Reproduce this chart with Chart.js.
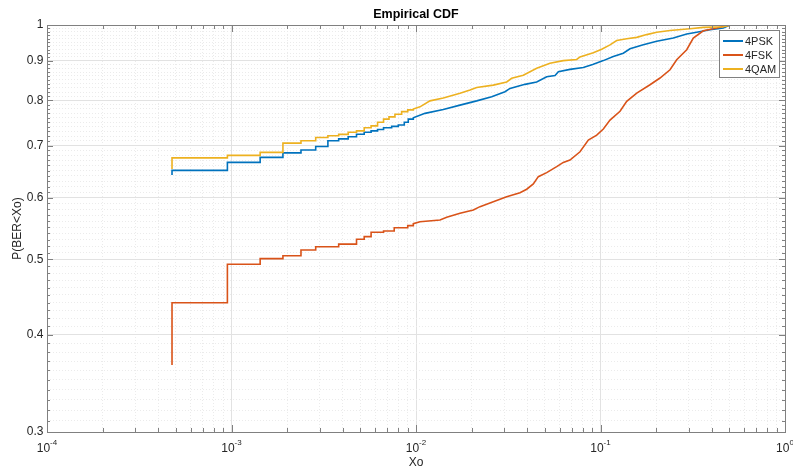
<!DOCTYPE html>
<html>
<head>
<meta charset="utf-8">
<script src="https://cdn.jsdelivr.net/npm/chart.js@4.4.0/dist/chart.umd.min.js"></script>
<style>
  html, body { margin: 0; padding: 0; background: #fff; }
  #wrap { width: 793px; height: 472px; }
</style>
</head>
<body>
<div id="wrap"><canvas id="cdfChart" width="793" height="472"></canvas></div>
<script>
// BER (x) and empirical CDF (y), one pair of arrays per modulation
const pskX = [0.000476, 0.000476, 0.00095, 0.00143, 0.0019, 0.00238, 0.00286, 0.00333, 0.00381, 0.00429, 0.00476, 0.00524, 0.00571, 0.00619, 0.00667, 0.00738, 0.00802, 0.00864, 0.00908, 0.00967, 0.01119, 0.01406, 0.01732, 0.02133, 0.02572, 0.03036, 0.03232, 0.03898, 0.0451, 0.0511, 0.0567, 0.0591, 0.0683, 0.0807, 0.0907, 0.1036, 0.1173, 0.1329, 0.1445, 0.1706, 0.2017, 0.2481, 0.2933, 0.3322, 0.3923, 0.4631, 0.5033];
const pskY = [0.6415, 0.6505, 0.666, 0.676, 0.685, 0.691, 0.698, 0.710, 0.714, 0.7185, 0.724, 0.728, 0.731, 0.734, 0.738, 0.741, 0.744, 0.750, 0.757, 0.760, 0.770, 0.779, 0.789, 0.799, 0.809, 0.821, 0.829, 0.839, 0.845, 0.858, 0.861, 0.871, 0.877, 0.882, 0.890, 0.900, 0.911, 0.920, 0.932, 0.943, 0.953, 0.962, 0.974, 0.979, 0.986, 0.991, 1.0];

const fskX = [0.000476, 0.000476, 0.00095, 0.00143, 0.0019, 0.00238, 0.00286, 0.00381, 0.00476, 0.00524, 0.00571, 0.00667, 0.00762, 0.00902, 0.00967, 0.01051, 0.01349, 0.01467, 0.01732, 0.02045, 0.02223, 0.02624, 0.03101, 0.03662, 0.03981, 0.04324, 0.04602, 0.0511, 0.05788, 0.06286, 0.0683, 0.07743, 0.0859, 0.09537, 0.1036, 0.1126, 0.1276, 0.1387, 0.1572, 0.1855, 0.2101, 0.2381, 0.2588, 0.2933, 0.3184, 0.3607, 0.4264, 0.5033];
const fskY = [0.3657, 0.4398, 0.4927, 0.501, 0.5054, 0.514, 0.519, 0.523, 0.5306, 0.5347, 0.5417, 0.5437, 0.549, 0.5524, 0.5557, 0.5589, 0.5617, 0.5662, 0.573, 0.5786, 0.5843, 0.593, 0.6018, 0.609, 0.6152, 0.6249, 0.6385, 0.6461, 0.6577, 0.666, 0.6707, 0.6873, 0.7115, 0.7221, 0.7351, 0.7549, 0.7747, 0.7978, 0.8177, 0.838, 0.8548, 0.876, 0.9023, 0.9294, 0.962, 0.983, 0.991, 1.0];

const qamX = [0.000476, 0.000476, 0.00095, 0.00143, 0.0019, 0.00238, 0.00286, 0.00333, 0.00381, 0.00429, 0.00476, 0.00524, 0.00571, 0.00619, 0.00667, 0.00714, 0.00769, 0.00836, 0.00902, 0.00967, 0.01051, 0.01191, 0.01406, 0.01732, 0.01963, 0.02133, 0.02624, 0.03101, 0.03301, 0.03816, 0.0451, 0.05324, 0.06286, 0.0743, 0.07743, 0.09141, 0.1015, 0.1126, 0.1224, 0.1387, 0.1572, 0.178, 0.2017, 0.2381, 0.3056, 0.3607, 0.4631, 0.5141];
const qamY = [0.653, 0.675, 0.680, 0.686, 0.705, 0.710, 0.717, 0.7206, 0.7236, 0.728, 0.731, 0.738, 0.742, 0.750, 0.757, 0.762, 0.768, 0.774, 0.778, 0.780, 0.785, 0.799, 0.806, 0.817, 0.825, 0.831, 0.837, 0.845, 0.854, 0.862, 0.880, 0.893, 0.900, 0.903, 0.910, 0.921, 0.931, 0.943, 0.955, 0.960, 0.964, 0.972, 0.979, 0.984, 0.989, 0.993, 0.995, 1.0];

const seriesLabels = ["4PSK", "4FSK", "4QAM"];
const seriesColors = ["#0072BD", "#D95319", "#EDB120"];

// below this BER the ecdf steps are wide enough to be drawn as stairs,
// above it the readings are dense and are joined directly
const stairLimit = 0.01;

// axis ticks
const xMajorTicks = [0.0001, 0.001, 0.01, 0.1, 1];
const xTickExponents = ["-4", "-3", "-2", "-1", "0"];
const yMajorTicks = [0.3, 0.4, 0.5, 0.6, 0.7, 0.8, 0.9, 1];
const yTickLabels = ["0.3", "0.4", "0.5", "0.6", "0.7", "0.8", "0.9", "1"];

const FONT = "'Liberation Sans', Arial, Helvetica, sans-serif";
const TEXT_COLOR = "#262626";
const AXIS_COLOR = "#808080";
const GRID_MAJOR = "#e2e2e2";
const GRID_MINOR = "#ebebeb";

// minor ticks: 2..9 inside each decade for x, every 0.01 for y
let xTicks = [];
xMajorTicks.forEach((v, i) => {
  xTicks.push({ value: v, major: true });
  if (i < xMajorTicks.length - 1) {
    for (let m = 2; m <= 9; m++) xTicks.push({ value: v * m, major: false });
  }
});
let yTicks = [];
for (let k = 30; k <= 100; k++) {
  yTicks.push({ value: k / 100, major: k % 10 === 0 });
}

// stairs for the sparse low-BER part, straight joins after that
function toPoints(xs, ys) {
  const pts = [];
  xs.forEach((x, i) => {
    if (i > 0 && x <= stairLimit) pts.push({ x: x, y: ys[i - 1] });
    pts.push({ x: x, y: ys[i] });
  });
  return pts;
}

// frame, inward tick marks, superscript x labels and boxed legend like MATLAB
const matlabFrame = {
  id: "matlabFrame",
  afterDraw(chart) {
    const { ctx, chartArea: a, scales } = chart;
    const x = scales.x, y = scales.y;
    ctx.save();
    ctx.strokeStyle = AXIS_COLOR;
    ctx.lineWidth = 1;
    ctx.beginPath();
    x.ticks.forEach((t) => {
      const px = Math.round(x.getPixelForValue(t.value)) + 0.5;
      const len = t.major ? 7 : 4;
      ctx.moveTo(px, a.bottom);
      ctx.lineTo(px, a.bottom - len);
      ctx.moveTo(px, a.top);
      ctx.lineTo(px, a.top + len);
    });
    y.ticks.forEach((t) => {
      const py = Math.round(y.getPixelForValue(t.value)) + 0.5;
      const len = t.major ? 6 : 3;
      ctx.moveTo(a.left, py);
      ctx.lineTo(a.left + len, py);
      ctx.moveTo(a.right, py);
      ctx.lineTo(a.right - len, py);
    });
    ctx.stroke();
    ctx.strokeRect(Math.round(a.left) + 0.5, Math.round(a.top) + 0.5,
      Math.round(a.right - a.left), Math.round(a.bottom - a.top));

    // x tick labels 10^n
    ctx.fillStyle = TEXT_COLOR;
    ctx.textBaseline = "alphabetic";
    ctx.textAlign = "left";
    xMajorTicks.forEach((v, i) => {
      const px = x.getPixelForValue(v);
      ctx.font = "12px " + FONT;
      const wBase = ctx.measureText("10").width;
      ctx.font = "8px " + FONT;
      const wExp = ctx.measureText(xTickExponents[i]).width;
      const left = px - (wBase + wExp) / 2;
      ctx.font = "12px " + FONT;
      ctx.fillText("10", left, a.bottom + 19.5);
      ctx.font = "8px " + FONT;
      ctx.fillText(xTickExponents[i], left + wBase, a.bottom + 13);
    });

    // legend
    const lx = 719.5, ly = 30.5, lw = 60, lh = 47;
    ctx.fillStyle = "#fff";
    ctx.fillRect(lx, ly, lw, lh);
    ctx.strokeStyle = AXIS_COLOR;
    ctx.strokeRect(lx, ly, lw, lh);
    ctx.font = "11px " + FONT;
    ctx.textBaseline = "middle";
    chart.data.datasets.forEach((ds, i) => {
      const rowY = 41 + i * 14;
      ctx.strokeStyle = ds.borderColor;
      ctx.lineWidth = 2;
      ctx.beginPath();
      ctx.moveTo(723, rowY);
      ctx.lineTo(743, rowY);
      ctx.stroke();
      ctx.fillStyle = TEXT_COLOR;
      ctx.fillText(ds.label, 745, rowY + 0.5);
    });
    ctx.restore();
  }
};

const gridColor = (c) => (c.tick && c.tick.major ? GRID_MAJOR : GRID_MINOR);
const gridDash = (c) => (c.tick && c.tick.major ? [] : [1, 2]);

new Chart(document.getElementById("cdfChart"), {
  type: "line",
  data: {
    datasets: [
      { label: seriesLabels[0], data: toPoints(pskX, pskY), borderColor: seriesColors[0], order: 2 },
      { label: seriesLabels[1], data: toPoints(fskX, fskY), borderColor: seriesColors[1], order: 1 },
      { label: seriesLabels[2], data: toPoints(qamX, qamY), borderColor: seriesColors[2], order: 0 }
    ]
  },
  options: {
    responsive: false,
    animation: false,
    elements: {
      line: { borderWidth: 1.6, tension: 0, fill: false, borderJoinStyle: "miter", borderCapStyle: "butt" },
      point: { radius: 0, hoverRadius: 0 }
    },
    layout: { padding: { left: 0, right: 8, top: 0, bottom: 0 } },
    plugins: {
      legend: { display: false },
      tooltip: { enabled: false },
      title: {
        display: true,
        fullSize: false,
        text: "Empirical CDF",
        color: "#000",
        font: { family: FONT, size: 12.5, weight: "bold" },
        padding: { top: 7, bottom: 3 }
      }
    },
    scales: {
      x: {
        type: "logarithmic",
        min: 0.0001,
        max: 1,
        afterBuildTicks: (s) => { s.ticks = xTicks.map((t) => ({ ...t })); },
        afterFit: (s) => { s.height = 40; },
        ticks: { display: false, autoSkip: false },
        grid: { color: gridColor, lineWidth: 1, drawTicks: false },
        border: { display: false, dash: gridDash },
        title: {
          display: true,
          text: "Xo",
          color: TEXT_COLOR,
          font: { family: FONT, size: 12 },
          padding: { top: 0, bottom: 1.8 }
        }
      },
      y: {
        type: "logarithmic",
        min: 0.3,
        max: 1,
        afterBuildTicks: (s) => { s.ticks = yTicks.map((t) => ({ ...t })); },
        afterFit: (s) => { s.width = 47; },
        ticks: {
          autoSkip: false,
          padding: 3.5,
          color: TEXT_COLOR,
          font: { family: FONT, size: 12 },
          callback: (value, index, ticks) => {
            if (!ticks[index].major) return "";
            return yTickLabels[Math.round(value * 10) - 3];
          }
        },
        grid: { color: gridColor, lineWidth: 1, drawTicks: false },
        border: { display: false, dash: gridDash },
        title: {
          display: true,
          text: "P(BER<Xo)",
          color: TEXT_COLOR,
          font: { family: FONT, size: 12 },
          padding: { top: 10.3, bottom: 0 }
        }
      }
    }
  },
  plugins: [matlabFrame]
});
</script>
</body>
</html>
